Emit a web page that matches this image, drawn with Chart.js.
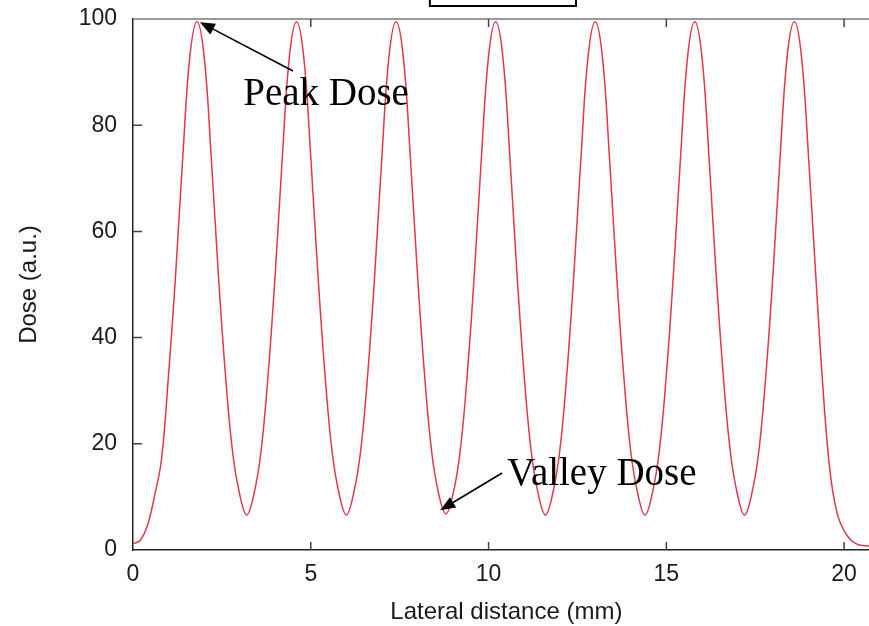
<!DOCTYPE html>
<html>
<head>
<meta charset="utf-8">
<script src="https://cdn.jsdelivr.net/npm/chart.js@4/dist/chart.umd.min.js"></script>
<style>
  html, body { margin: 0; padding: 0; background: #fff; overflow: hidden; }
  #wrap { position: relative; width: 869px; height: 626px; }
</style>
</head>
<body>
<div id="wrap"><canvas id="chart"></canvas></div>
<script>
// lateral positions (mm), every 0.2 mm
var distance = [
  0.0, 0.2, 0.4, 0.6, 0.8, 1.0, 1.2, 1.4, 1.6, 1.8,
  2.0, 2.2, 2.4, 2.6, 2.8, 3.0, 3.2, 3.4, 3.6, 3.8,
  4.0, 4.2, 4.4, 4.6, 4.8, 5.0, 5.2, 5.4, 5.6, 5.8,
  6.0, 6.2, 6.4, 6.6, 6.8, 7.0, 7.2, 7.4, 7.6, 7.8,
  8.0, 8.2, 8.4, 8.6, 8.8, 9.0, 9.2, 9.4, 9.6, 9.8,
  10.0, 10.2, 10.4, 10.6, 10.8, 11.0, 11.2, 11.4, 11.6, 11.8,
  12.0, 12.2, 12.4, 12.6, 12.8, 13.0, 13.2, 13.4, 13.6, 13.8,
  14.0, 14.2, 14.4, 14.6, 14.8, 15.0, 15.2, 15.4, 15.6, 15.8,
  16.0, 16.2, 16.4, 16.6, 16.8, 17.0, 17.2, 17.4, 17.6, 17.8,
  18.0, 18.2, 18.4, 18.6, 18.8, 19.0, 19.2, 19.4, 19.6, 19.8,
  20.0, 20.2, 20.4, 20.6, 20.8
];
// dose (a.u.) at each position
var dose = [
  1.2, 1.8, 4.5, 10, 17, 33, 52, 74, 93, 99.5,
  93, 74, 52, 33, 18.5, 10.5, 6.6, 10.5, 18.5, 33,
  52, 74, 93, 99.5, 93, 74, 52, 33, 18.5, 10.5,
  6.6, 10.5, 18.5, 33, 52, 74, 93, 99.5, 93, 74,
  52, 33, 18.5, 10.5, 6.8, 10.5, 18.5, 33, 52, 74,
  93, 99.5, 93, 74, 52, 33, 18.5, 10.5, 6.6, 10.5,
  18.5, 33, 52, 74, 93, 99.5, 93, 74, 52, 33,
  18.5, 10.5, 6.6, 10.5, 18.5, 33, 52, 74, 93, 99.5,
  93, 74, 52, 33, 18.5, 10.5, 6.6, 10.5, 18.5, 33,
  52, 74, 93, 99.5, 93, 74, 52, 31, 15, 7,
  3.6, 1.8, 1.0, 0.8, 0.7
];

var xTicks = [0, 5, 10, 15, 20];
var yTicks = [0, 20, 40, 60, 80, 100];

// annotations: [tailX, tailY, tipX, tipY] in data units
var peakArrow = [4.5, 90.2, 1.88, 99.4];
var valleyArrow = [10.38, 14.5, 8.64, 7.5];
var peakLabel = { text: "Peak Dose", x: 3.1, y: 83.8 };
var valleyLabel = { text: "Valley Dose", x: 10.52, y: 12.2 };

var points = distance.map(function (d, i) {
  return { x: d, y: dose[i] };
});

function arrow(ctx, xs, ys, a) {
  var x0 = xs.getPixelForValue(a[0]), y0 = ys.getPixelForValue(a[1]);
  var x1 = xs.getPixelForValue(a[2]), y1 = ys.getPixelForValue(a[3]);
  var ang = Math.atan2(y1 - y0, x1 - x0);
  var len = 15, half = 6;
  var bx = x1 - len * Math.cos(ang), by = y1 - len * Math.sin(ang);
  ctx.strokeStyle = "#000";
  ctx.fillStyle = "#000";
  ctx.lineWidth = 1.6;
  ctx.beginPath();
  ctx.moveTo(x0, y0);
  ctx.lineTo(bx, by);
  ctx.stroke();
  ctx.beginPath();
  ctx.moveTo(x1, y1);
  ctx.lineTo(bx + half * Math.sin(ang), by - half * Math.cos(ang));
  ctx.lineTo(bx - half * Math.sin(ang), by + half * Math.cos(ang));
  ctx.closePath();
  ctx.fill();
}

var frame = {
  id: "frame",
  afterDraw: function (chart) {
    var ctx = chart.ctx;
    var a = chart.chartArea;
    var xs = chart.scales.x, ys = chart.scales.y;
    ctx.save();

    // top border
    ctx.strokeStyle = "#777";
    ctx.lineWidth = 1.5;
    ctx.beginPath();
    ctx.moveTo(a.left, a.top);
    ctx.lineTo(a.right, a.top);
    ctx.stroke();

    // inward ticks
    ctx.strokeStyle = "#444";
    ctx.lineWidth = 1.5;
    ctx.beginPath();
    xTicks.forEach(function (v) {
      if (v === 0) return;
      var px = xs.getPixelForValue(v);
      ctx.moveTo(px, a.bottom);
      ctx.lineTo(px, a.bottom - 8);
      ctx.moveTo(px, a.top);
      ctx.lineTo(px, a.top + 8);
    });
    yTicks.forEach(function (v) {
      if (v === 0 || v === 100) return;
      var py = ys.getPixelForValue(v);
      ctx.moveTo(a.left, py);
      ctx.lineTo(a.left + 9, py);
    });
    ctx.stroke();

    // box at the top edge
    var bx0 = xs.getPixelForValue(8.35), bx1 = xs.getPixelForValue(12.46);
    ctx.strokeStyle = "#000";
    ctx.lineWidth = 2;
    ctx.strokeRect(bx0, -10, bx1 - bx0, a.top - 13 + 10);

    // x axis title
    ctx.fillStyle = "#1a1a1a";
    ctx.font = "24px 'Liberation Sans', Arial, sans-serif";
    ctx.textAlign = "center";
    ctx.textBaseline = "alphabetic";
    ctx.fillText("Lateral distance (mm)", xs.getPixelForValue(10.5), a.bottom + 69);

    // annotations
    arrow(ctx, xs, ys, peakArrow);
    arrow(ctx, xs, ys, valleyArrow);
    ctx.fillStyle = "#000";
    ctx.font = "39px 'Liberation Serif', 'Times New Roman', serif";
    ctx.textAlign = "left";
    ctx.fillText(peakLabel.text, xs.getPixelForValue(peakLabel.x), ys.getPixelForValue(peakLabel.y));
    ctx.fillText(valleyLabel.text, xs.getPixelForValue(valleyLabel.x), ys.getPixelForValue(valleyLabel.y));

    ctx.restore();
  }
};

new Chart(document.getElementById("chart"), {
  type: "line",
  data: {
    datasets: [{
      data: points,
      borderColor: "#e03a4a",
      borderWidth: 1.5,
      pointRadius: 0,
      tension: 0.4,
      fill: false
    }]
  },
  options: {
    responsive: true,
    maintainAspectRatio: false,
    animation: false,
    layout: { padding: { top: 19, right: 0, left: 0, bottom: 0 } },
    plugins: { legend: { display: false }, tooltip: { enabled: false } },
    scales: {
      x: {
        type: "linear",
        min: 0,
        max: 20.7,
        afterFit: function (s) {
          s.height = 76;
          s.paddingLeft = 0;
          s.paddingRight = 0;
        },
        grid: { drawOnChartArea: false, drawTicks: false },
        border: { display: true, color: "#222", width: 1.5 },
        ticks: {
          stepSize: 5,
          includeBounds: false,
          padding: 11,
          color: "#1a1a1a",
          font: { family: "'Liberation Sans', Arial, sans-serif", size: 23 }
        }
      },
      y: {
        min: 0,
        max: 100,
        afterFit: function (s) {
          s.width = 133;
          s.paddingTop = 0;
          s.paddingBottom = 0;
        },
        grid: { drawOnChartArea: false, drawTicks: false },
        border: { display: true, color: "#222", width: 1.5 },
        ticks: {
          stepSize: 20,
          padding: 16,
          color: "#1a1a1a",
          font: { family: "'Liberation Sans', Arial, sans-serif", size: 23 }
        },
        title: {
          display: true,
          text: "Dose (a.u.)",
          color: "#1a1a1a",
          padding: { top: 15, bottom: 0 },
          font: { family: "'Liberation Sans', Arial, sans-serif", size: 24 }
        }
      }
    }
  },
  plugins: [frame]
});
</script>
</body>
</html>
